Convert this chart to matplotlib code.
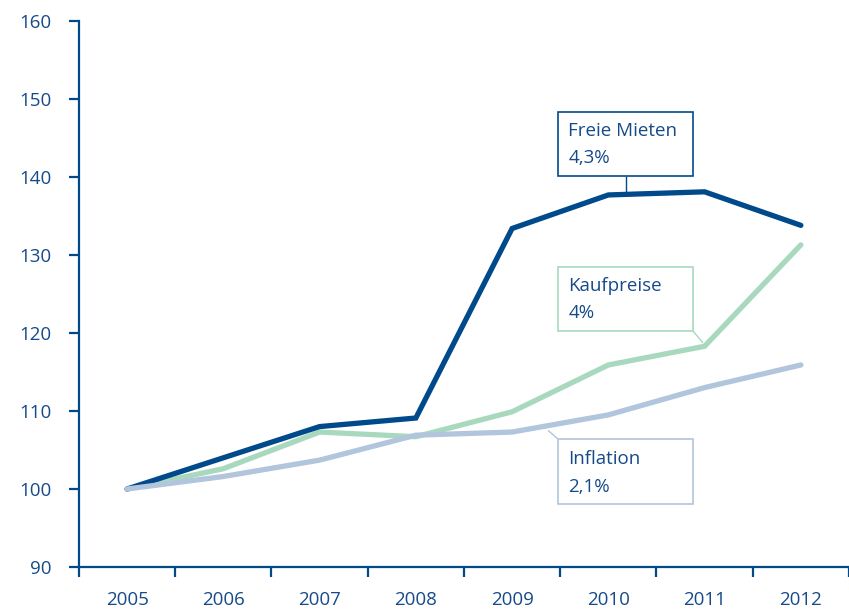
import matplotlib
matplotlib.use("Agg")
import matplotlib.pyplot as plt
from matplotlib.patches import Rectangle

years = ["2005", "2006", "2007", "2008", "2009", "2010", "2011", "2012"]
freie_mieten = [100, 104.0, 108.0, 109.1, 133.4, 137.7, 138.1, 133.8]
kaufpreise = [100, 102.6, 107.3, 106.7, 109.9, 115.9, 118.3, 131.3]
inflation = [100, 101.6, 103.7, 106.9, 107.3, 109.5, 113.0, 115.9]
yticks = [90, 100, 110, 120, 130, 140, 150, 160]

navy = "#004a8c"
green = "#a8d9bf"
grey = "#b1c5dc"
txt = "#164a89"

plt.rcParams['font.family'] = ['Open Sans', 'DejaVu Sans']
FS = 13.5

fig = plt.figure(figsize=(8.49, 6.09), dpi=100)
ax = fig.add_axes([0.093, 0.069, 0.907, 0.8965])
x = list(range(len(years)))

ax.plot(x, kaufpreise, color=green, lw=3.8, zorder=2, solid_capstyle='round', solid_joinstyle='miter')
ax.plot(x, freie_mieten, color=navy, lw=3.8, zorder=3, solid_capstyle='round', solid_joinstyle='miter')
ax.plot(x, inflation, color=grey, lw=3.8, zorder=4, solid_capstyle='round', solid_joinstyle='miter')

ax.set_xlim(-0.5, 7.5)
ax.set_ylim(90, 160)
ax.set_yticks(yticks)
ax.set_yticklabels([str(v) for v in yticks])
ax.set_xticks(x)
ax.set_xticklabels(years)
ax.set_xticks([i - 0.5 for i in range(len(years) + 1)], minor=True)

for s in ["top", "right"]:
    ax.spines[s].set_visible(False)
for s in ["left", "bottom"]:
    ax.spines[s].set_color(navy)
    ax.spines[s].set_linewidth(1.6)

ax.tick_params(axis='y', direction='out', length=7.5, width=1.6, color=navy, labelcolor=txt, labelsize=FS, pad=12)
ax.tick_params(axis='x', which='major', length=0, labelcolor=txt, labelsize=FS, pad=17)
ax.tick_params(axis='x', which='minor', direction='out', length=7.5, width=1.6, color=navy)


def box(x0, x1, ytop, ybot, ec, line1, line2, y1, y2, conn):
    ax.add_patch(Rectangle((x0, ybot), x1 - x0, ytop - ybot, fc='white', ec=ec, lw=1.2,
                           zorder=6, clip_on=False))
    ax.plot(conn[0], conn[1], color=ec, lw=1.0, zorder=5, solid_capstyle='butt')
    tx = x0 + 0.105
    ax.text(tx, y1, line1, fontsize=FS, color=txt, ha='left', va='center', zorder=7)
    ax.text(tx, y2, line2, fontsize=FS, color=txt, ha='left', va='center', zorder=7)


box(4.477, 5.879, 148.33, 140.13, navy, "Freie Mieten", "4,3%", 145.9, 142.4,
    ([5.183, 5.183], [140.13, 138.0]))
box(4.477, 5.879, 128.46, 120.26, green, "Kaufpreise", "4%", 126.0, 122.5,
    ([5.879, 5.983], [120.26, 118.72]))
box(4.477, 5.879, 106.41, 98.08, grey, "Inflation", "2,1%", 103.85, 100.3,
    ([4.477, 4.373], [106.41, 107.5]))

fig.savefig("out.png", dpi=100)
